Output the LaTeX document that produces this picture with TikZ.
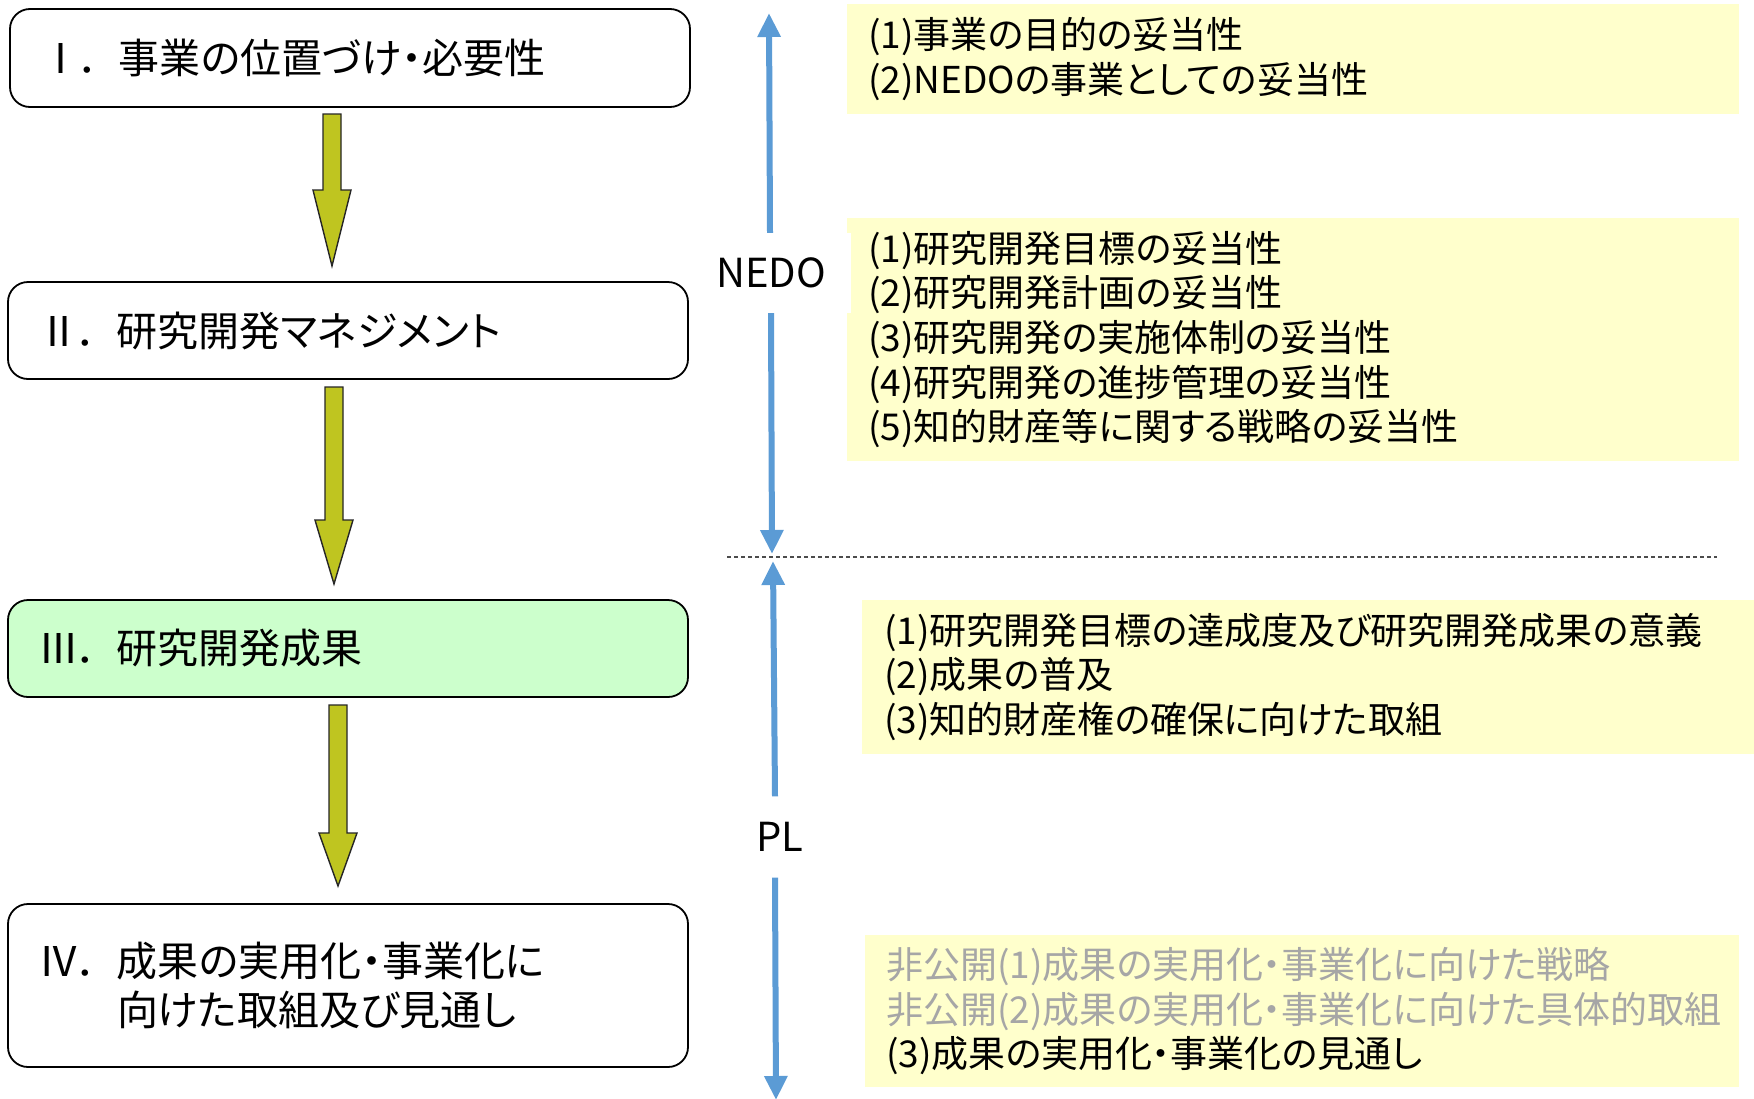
\documentclass[tikz,border=0pt]{standalone}
\usepackage{fontspec}
\setmainfont{Noto Sans CJK JP}[RawFeature=+palt]
\usetikzlibrary{arrows.meta,calc}
\definecolor{arrowfill}{HTML}{BFC520}
\definecolor{greenbox}{HTML}{CCFFCC}
\definecolor{yellowbox}{HTML}{FFFFCC}
\definecolor{bluec}{HTML}{5B9BD5}
\definecolor{grayt}{HTML}{A6A6A6}
\begin{document}
\begin{tikzpicture}[x=1pt,y=-1pt,
  labelbox/.style={draw=black, line width=1.8pt, rounded corners=20pt, fill=white,
    text width=620pt, inner xsep=30pt, inner ysep=0pt, align=left,
    font=\fontsize{41}{49}\selectfont, minimum width=680pt},
  ybox/.style={fill=yellowbox, inner ysep=0pt, align=left,
    font=\fontsize{37}{44.7}\selectfont},
  blockarrow/.style={draw=black!85, line width=1.4pt, fill=arrowfill, line join=miter},
  bluearr/.style={draw=bluec, line width=6pt, -{Triangle[length=24pt,width=22pt]}},
  sidelabel/.style={font=\fontsize{40}{40}\selectfont, inner sep=0pt}]
\useasboundingbox[fill=white] (0,0) rectangle (1754,1098);

% left boxes
\node[labelbox, minimum height=98pt] (b1) at (350,58) {\makebox[79pt][l]{Ⅰ．}事業の位置づけ・必要性};
\node[labelbox, minimum height=97pt] (b2) at (348,330.5) {\makebox[79pt][l]{Ⅱ．}研究開発マネジメント};
\node[labelbox, minimum height=97pt, fill=greenbox] (b3) at (348,648.5) {\makebox[79pt][l]{Ⅲ．}研究開発成果};
\node[labelbox, minimum height=163pt] (b4) at (348,985.5) {\makebox[79pt][l]{Ⅳ．}成果の実用化・事業化に\\\makebox[79pt][l]{}向けた取組及び見通し};

% block arrows
\draw[blockarrow] (323,114) -- (341,114) -- (341,190) -- (351,190) -- (332,266) -- (313,190) -- (323,190) -- cycle;
\draw[blockarrow] (325,387) -- (343,387) -- (343,520) -- (353,520) -- (334,584) -- (315,520) -- (325,520) -- cycle;
\draw[blockarrow] (329,705) -- (347,705) -- (347,833) -- (357,833) -- (338,886) -- (319,833) -- (329,833) -- cycle;

% right boxes
\node[ybox, minimum width=892pt, minimum height=110pt, text width=850pt, inner xsep=21pt] (ya) at (1293,59)
  {(1)事業の目的の妥当性\\(2)NEDOの事業としての妥当性};
\node[ybox, minimum width=892pt, minimum height=243pt, text width=850pt, inner xsep=21pt] (yb) at (1293,339.5)
  {(1)研究開発目標の妥当性\\(2)研究開発計画の妥当性\\(3)研究開発の実施体制の妥当性\\(4)研究開発の進捗管理の妥当性\\(5)知的財産等に関する戦略の妥当性};
\node[ybox, minimum width=892pt, minimum height=154pt, text width=848pt, inner xsep=22pt] (yc) at (1308,677)
  {(1)研究開発目標の達成度及び研究開発成果の意義\\(2)成果の普及\\(3)知的財産権の確保に向けた取組};
\node[ybox, minimum width=874pt, minimum height=152pt, text width=832pt, inner xsep=21pt] (yd) at (1302,1011)
  {\textcolor{grayt}{非公開(1)成果の実用化・事業化に向けた戦略}\\\textcolor{grayt}{非公開(2)成果の実用化・事業化に向けた具体的取組}\\(3)成果の実用化・事業化の見通し};

% side labels
\node[sidelabel, fill=white, minimum width=160pt, minimum height=80pt] (nedo) at (771,273) {NEDO};
\node[sidelabel, minimum width=60pt, minimum height=81pt] (pl) at (780,837) {PL};

% dashed separator
\coordinate (dl) at (727,557);
\coordinate (dr) at (1717,557);
\draw[black!70, line width=1.3pt, dash pattern=on 4pt off 3pt] (dl) -- (dr);

% blue arrows
\coordinate (ntop) at (769,13);
\coordinate (nbot) at (772,554);
\coordinate (ptop) at (773,561);
\coordinate (pbot) at (776,1100);
\draw[bluearr] (nedo.north -| 770,0) -- (ntop);
\draw[bluearr] (nedo.south -| 771,0) -- (nbot);
\draw[bluearr] (pl.north -| 775,0) -- (ptop);
\draw[bluearr] (pl.south -| 775,0) -- (pbot);
\end{tikzpicture}
\end{document}
